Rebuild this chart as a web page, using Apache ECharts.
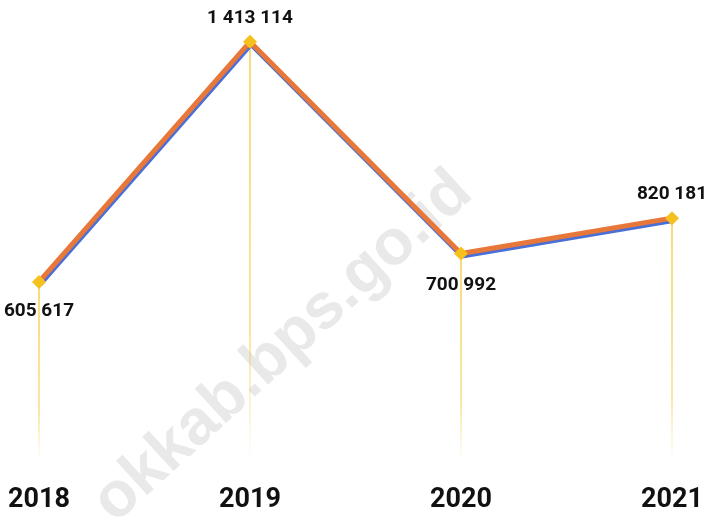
<!DOCTYPE html>
<html>
<head>
<meta charset="utf-8">
<script src="https://cdn.jsdelivr.net/npm/echarts@6/dist/echarts.min.js"></script>
<style>
html,body{margin:0;padding:0;background:#fff;}
#c{width:708px;height:520px;}
</style>
</head>
<body>
<div id="c"></div>
<script>
var years = ['2018', '2019', '2020', '2021'];
var values = [605617, 1413114, 700992, 820181];
var labelPositions = ['bottom', 'top', 'bottom', 'top'];
var labelDistances = [13, 7, 15, 7];

function fmt(v) {
  return String(v).replace(/\B(?=(\d{3})+(?!\d))/g, ' ');
}

var chart = echarts.init(document.getElementById('c'));
var FONT = 'Roboto, "Liberation Sans", sans-serif';

chart.setOption({
  backgroundColor: '#ffffff',
  animation: false,
  grid: { left: 39, right: 36, top: 16, bottom: 58 },
  xAxis: {
    type: 'category',
    data: years,
    boundaryGap: false,
    axisLine: { show: false },
    axisTick: { show: false },
    splitLine: { show: false },
    axisLabel: {
      margin: 25,
      color: '#111',
      fontFamily: FONT,
      fontWeight: 'bold',
      fontSize: 27
    }
  },
  yAxis: {
    type: 'value',
    min: 0,
    max: 1500000,
    show: false,
    splitLine: { show: false }
  },
  graphic: [{
    type: 'text',
    x: 283, y: 347,
    rotation: 0.74,
    style: {
      text: 'okkab.bps.go.id',
      fontFamily: 'Arial, "Liberation Sans", sans-serif',
      fontWeight: 'bold',
      fontSize: 64,
      fill: '#e9e9e9',
      align: 'center',
      verticalAlign: 'middle'
    },
    z: -1,
    silent: true
  }],
  series: [
    {
      type: 'bar',
      data: values,
      barWidth: 1.2,
      silent: true,
      z: 1,
      itemStyle: {
        color: new echarts.graphic.LinearGradient(0, 0, 0, 1, [
          { offset: 0, color: 'rgba(242,196,30,1)' },
          { offset: 0.7, color: 'rgba(242,196,30,0.7)' },
          { offset: 1, color: 'rgba(242,196,30,0)' }
        ])
      }
    },
    {
      type: 'line',
      data: values.map(function (v, i) {
        return {
          value: v,
          label: { position: labelPositions[i], distance: labelDistances[i] }
        };
      }),
      z: 3,
      symbol: 'diamond',
      symbolSize: 14,
      itemStyle: { color: '#f6c11c' },
      lineStyle: {
        color: '#e8773a',
        width: 5,
        shadowColor: '#4a6fd6',
        shadowOffsetX: 1,
        shadowOffsetY: 2.5,
        shadowBlur: 0
      },
      label: {
        show: true,
        color: '#111',
        fontFamily: FONT,
        fontWeight: 'bold',
        fontSize: 19,
        formatter: function (p) { return fmt(p.value); }
      }
    }
  ]
});
</script>
</body>
</html>
